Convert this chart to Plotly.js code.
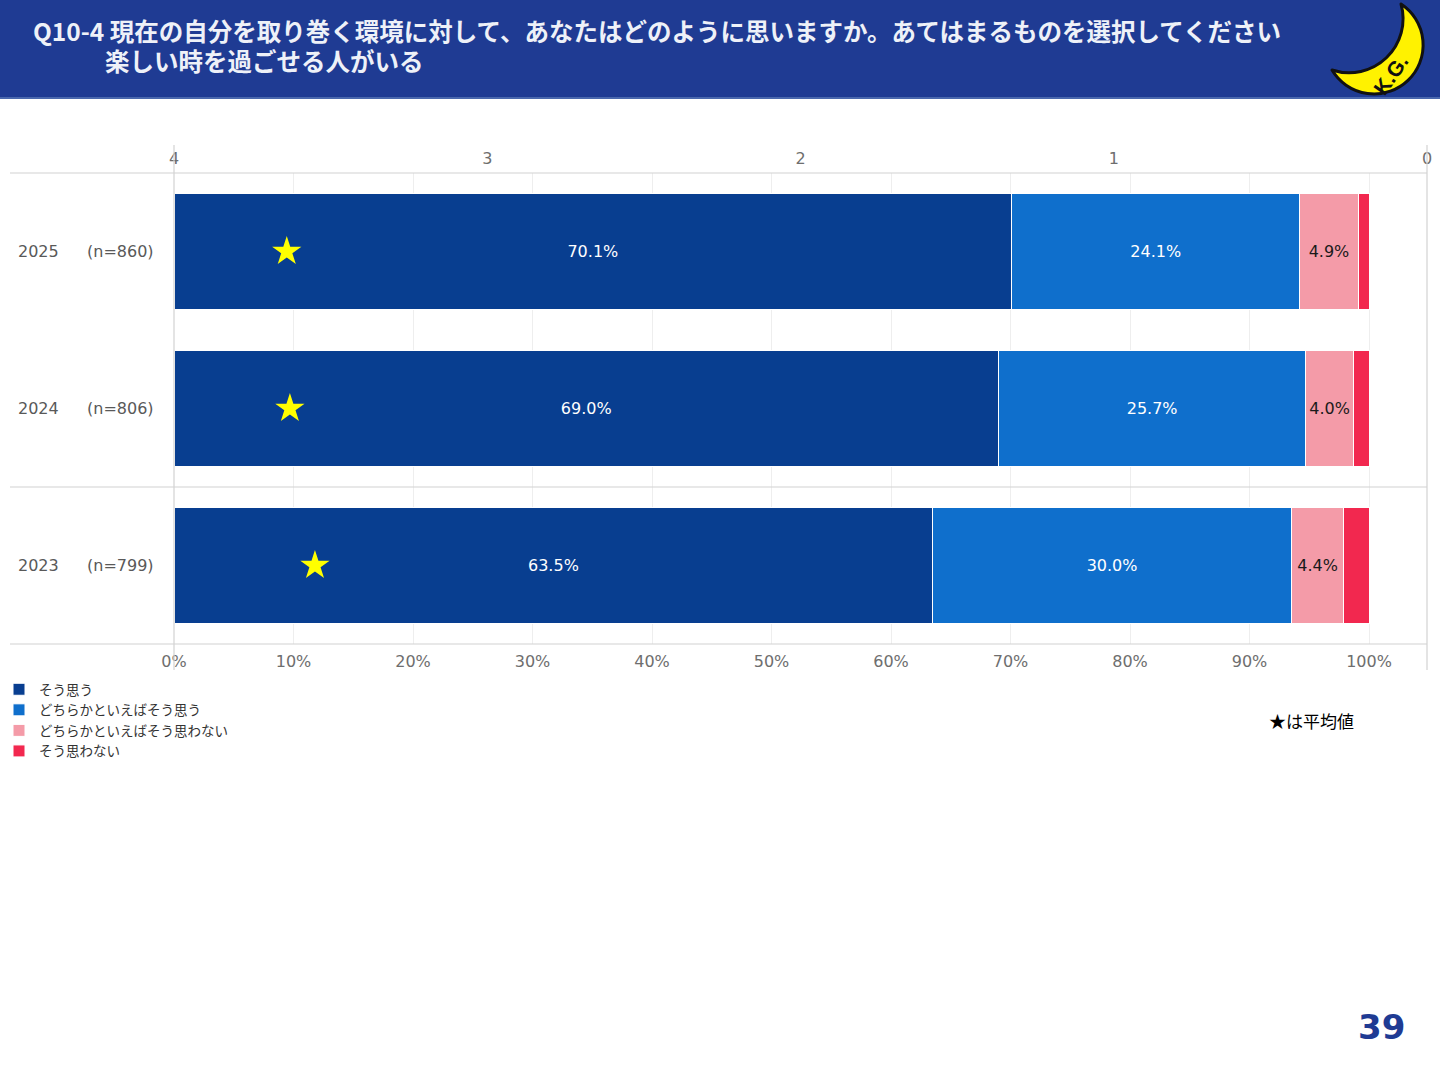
<!DOCTYPE html>
<html>
<head>
<meta charset="utf-8">
<script src="https://cdn.plot.ly/plotly-3.0.1.min.js"></script>
<style>
  html, body { margin:0; padding:0; background:#ffffff; }
  #wrap { position:relative; width:1440px; height:1080px; overflow:hidden; }
  #chart { position:absolute; left:0; top:0; width:1440px; height:1080px; }
  #header { position:absolute; left:0; top:0; width:1440px; height:97px; background:#1f3b93; border-bottom:2px solid #4a68ad; z-index:5; }
  .tl { position:absolute; left:33px; top:16px; color:#eef1f8; font-family:"Noto Sans CJK JP", sans-serif; font-weight:700; font-size:24.5px; line-height:30px; white-space:nowrap; }
  .tl .l2 { display:inline-block; margin-left:72px; }
  #moon { position:absolute; left:0; top:0; z-index:6; }
</style>
</head>
<body>
<div id="wrap">
  <div id="chart"></div>
  <div id="header">
    <div class="tl">Q10-4 現在の自分を取り巻く環境に対して、あなたはどのように思いますか。あてはまるものを選択してください<br><span class="l2">楽しい時を過ごせる人がいる</span></div>
  </div>
  <svg id="moon" width="1440" height="100" viewBox="0 0 1440 100">
    <path d="M 1401 4 A 49 49 0 1 1 1332 70 A 54 54 0 0 0 1401 4 Z" fill="#fff200" stroke="#111" stroke-width="3" stroke-linejoin="round"/>
    <text x="1397" y="79" transform="rotate(-55 1397 79)" text-anchor="middle" font-family="Liberation Sans, Arial, sans-serif" font-weight="700" font-size="21" fill="#111">K.G.</text>
  </svg>
</div>
<script>
// ---- data ----
const years = ['2023', '2024', '2025'];
const sampleSizes = ['(n=799)', '(n=806)', '(n=860)'];
const seriesNames = ['そう思う', 'どちらかといえばそう思う', 'どちらかといえばそう思わない', 'そう思わない'];
const agree = [63.5, 69.0, 70.1];
const somewhatAgree = [30.0, 25.7, 24.1];
const somewhatDisagree = [4.4, 4.0, 4.9];
const disagree = [2.1, 1.3, 0.9];
const averages = [3.55, 3.63, 3.64];
const pctTickVals = [0, 10, 20, 30, 40, 50, 60, 70, 80, 90, 100];
const pctTickText = ['0%', '10%', '20%', '30%', '40%', '50%', '60%', '70%', '80%', '90%', '100%'];
const avgTickVals = [4, 3, 2, 1, 0];
const avgTickText = ['4', '3', '2', '1', '0'];

// ---- styling ----
const colors = ['#083e90', '#0f6fcc', '#f49ba8', '#f2284f'];
const labelColors = ['#ffffff', '#ffffff', '#1a1a1a', '#ffffff'];
const seriesValues = [agree, somewhatAgree, somewhatDisagree, disagree];
const showLabels = [true, true, true, false];
const latin = 'DejaVu Sans, Noto Sans CJK JP, sans-serif';
const jp = 'Noto Sans CJK JP, sans-serif';

// plot area geometry (px)
const L = 174, R = 1427, T = 173, B = 644;
const W = R - L, H = B - T;
const px = x => (x - L) / W;
const py = y => (B - y) / H;

const traces = seriesValues.map((vals, i) => ({
  type: 'bar',
  orientation: 'h',
  name: seriesNames[i],
  y: years,
  x: vals,
  xaxis: 'x',
  yaxis: 'y',
  marker: { color: colors[i], line: { color: '#ffffff', width: 1 } },
  text: showLabels[i] ? vals.map(v => v.toFixed(1) + '%') : vals.map(() => ''),
  textposition: 'inside',
  insidetextanchor: 'middle',
  constraintext: 'none',
  textfont: { family: latin, size: 16, color: labelColors[i] },
  hoverinfo: 'skip'
}));

traces.push({
  type: 'scatter',
  mode: 'markers',
  x: averages,
  y: years,
  xaxis: 'x2',
  yaxis: 'y',
  marker: { symbol: 'star', size: 22, color: '#ffff00', line: { width: 0 } },
  showlegend: false,
  hoverinfo: 'skip'
});

const annotations = [];
years.forEach((yr, i) => {
  annotations.push({ xref: 'paper', yref: 'y', x: px(16), y: i, xanchor: 'left', yanchor: 'middle',
    text: yr, showarrow: false, font: { family: latin, size: 16, color: '#595959' } });
  annotations.push({ xref: 'paper', yref: 'y', x: px(156), y: i, xanchor: 'right', yanchor: 'middle',
    text: sampleSizes[i], showarrow: false, font: { family: latin, size: 16, color: '#595959' } });
});
annotations.push({ xref: 'paper', yref: 'paper', x: px(1267), y: py(720), xanchor: 'left', yanchor: 'middle',
  text: '★は平均値', showarrow: false, font: { family: jp, size: 17, color: '#000000' } });
annotations.push({ xref: 'paper', yref: 'paper', x: px(1407), y: py(1027), xanchor: 'right', yanchor: 'middle',
  text: '<b>39</b>', showarrow: false, font: { family: 'DejaVu Sans, sans-serif', size: 34, color: '#1f3b93' } });

const lineCol = '#d2d2d2';
const shapes = [
  { type: 'line', xref: 'paper', yref: 'paper', x0: px(10), x1: 1, y0: 1, y1: 1, line: { color: lineCol, width: 1.2 } },
  { type: 'line', xref: 'paper', yref: 'y', x0: px(10), x1: 1, y0: 0.5, y1: 0.5, line: { color: lineCol, width: 1.2 } },
  { type: 'line', xref: 'paper', yref: 'paper', x0: px(10), x1: 1, y0: 0, y1: 0, line: { color: lineCol, width: 1.2 } },
  { type: 'line', xref: 'paper', yref: 'paper', x0: 0, x1: 0, y0: py(145), y1: py(670), line: { color: lineCol, width: 1.2 } },
  { type: 'line', xref: 'paper', yref: 'paper', x0: 1, x1: 1, y0: py(145), y1: py(670), line: { color: lineCol, width: 1.2 } }
];

const layout = {
  width: 1440, height: 1080, autosize: false,
  margin: { l: L, r: 1440 - R, t: T, b: 1080 - B, pad: 0, autoexpand: false },
  paper_bgcolor: '#ffffff', plot_bgcolor: '#ffffff',
  barmode: 'stack', bargap: 0.255,
  showlegend: true,
  legend: { xref: 'paper', yref: 'paper', x: px(-1), y: py(674), xanchor: 'left', yanchor: 'top',
    traceorder: 'normal', font: { family: jp, size: 13.5, color: '#333333' }, itemwidth: 30, tracegroupgap: 0,
    bgcolor: 'rgba(0,0,0,0)' },
  xaxis: { range: [0, W / 11.95], tickvals: pctTickVals, ticktext: pctTickText, side: 'bottom',
    showgrid: true, gridcolor: '#eeeeee', gridwidth: 1, zeroline: false, showline: false, ticks: '',
    ticklabelstandoff: 6, tickfont: { family: latin, size: 16, color: '#6e6e6e' }, fixedrange: true },
  xaxis2: { range: [4, 0], overlaying: 'x', side: 'top', tickvals: avgTickVals, ticktext: avgTickText,
    showgrid: false, zeroline: false, showline: false, ticks: '', ticklabelstandoff: 5,
    tickfont: { family: latin, size: 16, color: '#6e6e6e' }, fixedrange: true },
  yaxis: { type: 'category', categoryarray: years, range: [-0.5, 2.5], showticklabels: false, showgrid: false,
    zeroline: false, showline: false, ticks: '', fixedrange: true },
  shapes: shapes,
  annotations: annotations
};

Plotly.newPlot('chart', traces, layout, { displayModeBar: false, staticPlot: true });
</script>
</body>
</html>
